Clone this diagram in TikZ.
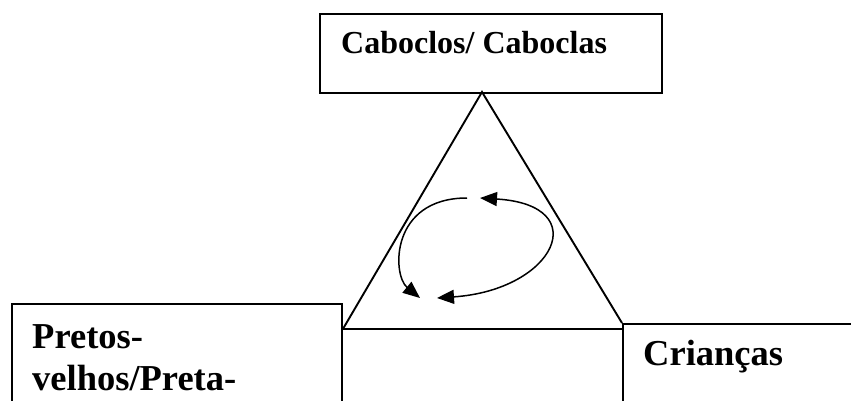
\documentclass[tikz,border=0pt]{standalone}
\usepackage{fontspec}
\setmainfont{Liberation Serif}
\usetikzlibrary{arrows.meta}
\begin{document}
\begin{tikzpicture}[x=1pt,y=-1pt,
  boxnode/.style={draw,line width=1.9pt,rectangle,inner sep=0pt,anchor=north west},
  lbl/.style={anchor=base west,inner sep=0pt,font=\bfseries\fontsize{36.5}{42}\selectfont},
  toplbl/.style={anchor=base west,inner sep=0pt,font=\bfseries\fontsize{32}{38}\selectfont},
  tri/.style={line width=1.9pt},
  cyc/.style={line width=1.5pt},
  tip/.style={-{Triangle[length=17pt,width=14pt]}},
  tips/.style={{Triangle[length=17pt,width=14pt]}-{Triangle[length=17pt,width=14pt]}}]
\useasboundingbox (0,0) rectangle (851,400);
\clip (0,0) rectangle (851,400);
% boxes
\node[boxnode,minimum width=342pt,minimum height=79pt] (cab) at (319,13) {};
\node[boxnode,minimum width=330pt,minimum height=130pt] (pre) at (11,303) {};
\node[boxnode,minimum width=260pt,minimum height=110pt] (cri) at (622,323) {};
% texts
\node[toplbl] (tcab) at (341,53) {Caboclos/ Caboclas};
\node[lbl] (tpre1) at (32,348) {Pretos-};
\node[lbl] (tpre2) at (32,390) {velhos/Preta-};
\node[lbl] (tcri) at (643,365) {Crianças};
% triangle
\coordinate (apex) at (482,92);
\coordinate (bl) at (pre.north east |- 0,329);
\coordinate (br) at (cri.north west |- 0,329);
\coordinate (brt) at (cri.north west);
\draw[tri,line join=miter] (bl) -- (apex) -- (brt);
\draw[tri] (bl) -- (br);
% cycle arrows
\coordinate (a1) at (467,198);
\coordinate (a2) at (420,298);
\coordinate (b1) at (437,298);
\coordinate (b2) at (480,198);
\draw[cyc,tip] (a1) .. controls (390,198) and (392,275) .. (a2);
\draw[cyc,tips] (b1) .. controls (555,290) and (595,205) .. (b2);
\end{tikzpicture}
\end{document}
